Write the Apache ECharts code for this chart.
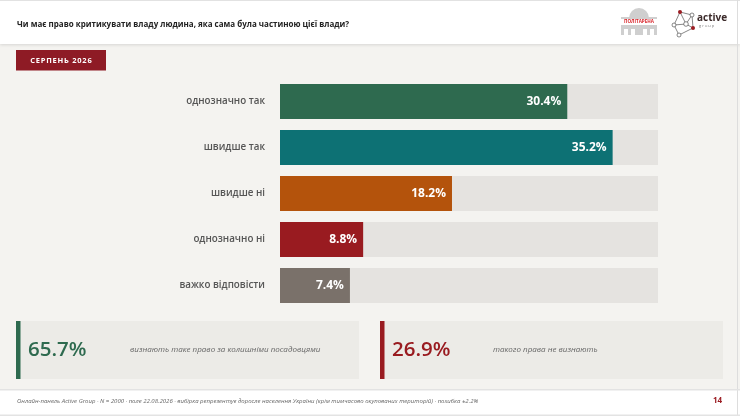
<!DOCTYPE html>
<html>
<head>
<meta charset="utf-8">
<script src="https://cdn.jsdelivr.net/npm/echarts@6/dist/echarts.min.js"></script>
<style>
html,body{margin:0;padding:0;background:#f4f3f0;}
#chart{width:740px;height:416px;}
</style>
</head>
<body>
<div id="chart"></div>
<script>
// ---- data ----
const title = 'Чи має право критикувати владу людина, яка сама була частиною цієї влади?';
const badgeText = 'СЕРПЕНЬ 2026';
const categories = ['однозначно так', 'швидше так', 'швидше ні', 'однозначно ні', 'важко відповісти'];
const values = [30.4, 35.2, 18.2, 8.8, 7.4];
const barColors = ['#2e6a4f', '#0d7174', '#b4530c', '#991b20', '#7a716a'];
const axisMax = 40;
const summaryValues = ['65.7%', '26.9%'];
const summaryTexts = ['визнають таке право за колишніми посадовцями', 'такого права не визнають'];
const summaryColors = ['#2e6a4f', '#991b20'];
const footnote = 'Онлайн-панель Active Group · N = 2000 · поле 22.08.2026 · вибірка репрезентує доросле населення України (крім тимчасово окупованих територій) · похибка ±2.2%';
const pageNumber = '14';

const chart = echarts.init(document.getElementById('chart'), null, {renderer: 'canvas'});
const FONT = '"Open Sans", "DejaVu Sans", sans-serif';

function summaryBox(i, x, w) {
  return [
    {type: 'rect', shape: {x: x, y: 321, width: w, height: 58}, style: {fill: '#ecebe7'}},
    {type: 'rect', shape: {x: x, y: 321, width: 4.5, height: 58}, style: {fill: summaryColors[i]}},
    {type: 'text', x: x + 12, y: 350, style: {text: summaryValues[i], fill: summaryColors[i], font: '600 20.5px ' + FONT, textVerticalAlign: 'middle'}},
    {type: 'text', x: x + (i === 0 ? 114 : 113), y: 350, style: {text: summaryTexts[i], fill: '#666', font: 'italic 8px ' + FONT, textVerticalAlign: 'middle'}}
  ];
}

const graphics = [
  // header
  {type: 'rect', shape: {x: 0, y: 0, width: 740, height: 44}, style: {fill: '#ffffff', shadowBlur: 3, shadowColor: 'rgba(0,0,0,0.12)', shadowOffsetY: 1}, z: 1},
  {type: 'rect', shape: {x: 0, y: 0, width: 740, height: 1}, style: {fill: '#e2e2e2'}, z: 2},
  {type: 'rect', shape: {x: 737, y: 0, width: 1, height: 416}, style: {fill: '#dddddd'}, z: 2},
  {type: 'text', x: 17, y: 25, style: {text: title, fill: '#222', font: 'bold 8px ' + FONT, textVerticalAlign: 'middle'}, z: 3},
  // Poltarena logo
  {type: 'sector', shape: {cx: 639, cy: 18, r0: 0, r: 10, startAngle: Math.PI, endAngle: 2 * Math.PI}, style: {fill: '#cfcfcf'}, z: 3},
  {type: 'rect', shape: {x: 621, y: 17, width: 36, height: 2}, style: {fill: '#cfcfcf'}, z: 3},
  {type: 'rect', shape: {x: 620, y: 19.5, width: 38, height: 4.5}, style: {fill: '#ffffff'}, z: 3},
  {type: 'text', x: 639, y: 21.8, style: {text: 'ПОЛІТАРЕНА', fill: '#d9262c', font: 'bold 4.6px ' + FONT, textAlign: 'center', textVerticalAlign: 'middle'}, z: 4},
  {type: 'rect', shape: {x: 621, y: 25, width: 36, height: 10}, style: {fill: '#cfcfcf'}, z: 3},
  {type: 'rect', shape: {x: 624, y: 29, width: 4, height: 6}, style: {fill: '#fff'}, z: 4},
  {type: 'rect', shape: {x: 631, y: 29, width: 4, height: 6}, style: {fill: '#fff'}, z: 4},
  {type: 'rect', shape: {x: 643, y: 29, width: 4, height: 6}, style: {fill: '#fff'}, z: 4},
  {type: 'rect', shape: {x: 650, y: 29, width: 4, height: 6}, style: {fill: '#fff'}, z: 4},
  // Active group logo
  {type: 'polyline', shape: {points: [[680, 12], [692, 15], [693, 28], [679, 35], [674, 25], [680, 12]]}, style: {stroke: '#555', lineWidth: 0.7, fill: null}, z: 3},
  {type: 'polyline', shape: {points: [[680, 12], [686, 24], [693, 28]]}, style: {stroke: '#555', lineWidth: 0.7, fill: null}, z: 3},
  {type: 'polyline', shape: {points: [[674, 25], [686, 24], [692, 15]]}, style: {stroke: '#555', lineWidth: 0.7, fill: null}, z: 3},
  {type: 'circle', shape: {cx: 680, cy: 12, r: 2}, style: {fill: '#9b1c22'}, z: 4},
  {type: 'circle', shape: {cx: 692, cy: 15, r: 2}, style: {fill: '#fff', stroke: '#555', lineWidth: 0.7}, z: 4},
  {type: 'circle', shape: {cx: 693, cy: 28, r: 2}, style: {fill: '#9b1c22'}, z: 4},
  {type: 'circle', shape: {cx: 679, cy: 35, r: 2}, style: {fill: '#fff', stroke: '#555', lineWidth: 0.7}, z: 4},
  {type: 'circle', shape: {cx: 674, cy: 25, r: 2}, style: {fill: '#fff', stroke: '#555', lineWidth: 0.7}, z: 4},
  {type: 'circle', shape: {cx: 686, cy: 24, r: 2.3}, style: {fill: '#fff', stroke: '#555', lineWidth: 0.7}, z: 4},
  {type: 'text', x: 697, y: 18, style: {text: 'active', fill: '#3b2a2a', font: 'bold 10px ' + FONT, textVerticalAlign: 'middle'}, z: 3},
  {type: 'text', x: 699, y: 26, style: {text: 'g r o u p', fill: '#777', font: '4px ' + FONT, textVerticalAlign: 'middle'}, z: 3},
  // badge
  {type: 'rect', shape: {x: 16, y: 50, width: 90, height: 20.5}, style: {fill: '#8e1b25'}, z: 3},
  {type: 'text', x: 61, y: 60.5, style: {text: badgeText.split('').join('\u200A'), fill: '#fff', font: 'bold 7.5px ' + FONT, textAlign: 'center', textVerticalAlign: 'middle'}, z: 4},
  // footer
  {type: 'rect', shape: {x: 0, y: 389, width: 740, height: 27}, style: {fill: '#ffffff'}, z: 1},
  {type: 'rect', shape: {x: 0, y: 389, width: 740, height: 1.5}, style: {fill: '#e3e3e3'}, z: 2},
  {type: 'rect', shape: {x: 0, y: 414.5, width: 740, height: 1.5}, style: {fill: '#e3e3e3'}, z: 2},
  {type: 'text', x: 17, y: 401, style: {text: footnote, fill: '#666', font: 'italic 6px ' + FONT, textVerticalAlign: 'middle'}, z: 3},
  {type: 'text', x: 713, y: 401, style: {text: pageNumber, fill: '#9b1c22', font: 'bold 8px ' + FONT, textVerticalAlign: 'middle'}, z: 3}
].concat(summaryBox(0, 16, 343), summaryBox(1, 380, 343));

const option = {
  backgroundColor: '#f4f3f0',
  animation: false,
  grid: {left: 280, right: 82, top: 78.5, height: 230, containLabel: false},
  xAxis: {type: 'value', min: 0, max: axisMax, show: false},
  yAxis: {
    type: 'category', data: categories, inverse: true,
    axisLine: {show: false}, axisTick: {show: false},
    axisLabel: {color: '#555', fontSize: 9.8, fontWeight: 600, fontFamily: FONT, margin: 15}
  },
  series: [{
    type: 'bar',
    barWidth: 35,
    showBackground: true,
    backgroundStyle: {color: '#e5e3e0'},
    data: values.map((v, i) => ({value: v, itemStyle: {color: barColors[i]}})),
    label: {
      show: true, position: 'insideRight', distance: 6,
      formatter: p => p.value.toFixed(1) + '%',
      color: '#fff', fontWeight: 'bold', fontSize: 12, fontFamily: FONT
    }
  }],
  graphic: graphics
};
chart.setOption(option);
</script>
</body>
</html>
